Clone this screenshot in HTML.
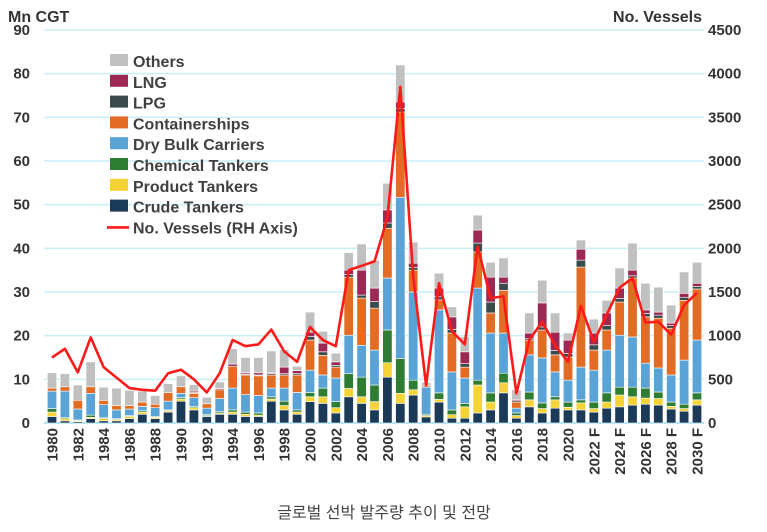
<!DOCTYPE html>
<html><head><meta charset="utf-8"><style>
body{margin:0;background:#fff;width:767px;height:527px;overflow:hidden;font-family:"Liberation Sans","Noto Sans CJK KR",sans-serif}
svg text{font-family:"Liberation Sans","Noto Sans CJK KR",sans-serif}
</style></head><body>
<svg id="chart" width="767" height="527" xmlns="http://www.w3.org/2000/svg"></svg>
<script>
const years=[];for(let y=1980;y<=2030;y++)years.push(y);
const crude=[1.5,0.5,0.3,1,0.5,0.5,1,2,1,2.5,5,3,1.5,2,2,1.5,1.5,5,3,2,4.9,4.5,2.3,6.0,4.5,3.0,10.5,4.5,6.4,1.4,4.8,1.1,1.1,2.3,3.0,6.9,1.1,3.7,2.3,3.4,3.0,3.0,2.5,3.4,3.7,4.1,4.3,4.1,3.2,2.7,4.1];
const product=[1,0.5,0.2,0.3,0.5,0.3,0.5,0.5,0.3,0.3,0.5,0.5,0.2,0.3,0.5,0.5,0.3,0.5,1,0.5,1.1,1.5,1.2,1.9,1.5,1.9,3.3,2.3,1.2,0.3,0.6,0.8,2.6,6.4,1.8,2.3,0.6,1.6,1.0,1.9,0.6,1.6,0.8,1.4,2.7,1.9,1.4,1.5,0.6,0.6,1.2];
const chemical=[0.8,0.3,0.2,0.5,0.2,0.2,0.2,0.3,0.2,0.2,0.3,0.3,0.2,0.3,0.5,0.5,0.5,0.5,1,0.5,1.0,2.0,1.4,3.4,4.5,3.8,7.5,8.0,2.2,0.3,1.5,1.1,0.8,1.1,2.1,2.2,0.6,1.8,1.3,0.7,1.2,0.7,1.5,2.1,1.8,2.2,2.3,1.5,1.0,1.0,1.6];
const dryBulk=[4,6,2.5,5,3,2,1.5,1,2,2,1,2,1.5,3,5,4,4,2,3,4,5.1,3.0,5.4,8.8,7.3,8.0,11.9,36.9,20.2,6.2,19.0,8.7,5.8,21.1,13.7,9.2,1.1,8.5,10.3,5.7,5.0,7.5,7.3,9.8,11.9,11.5,5.7,5.5,6.2,10.1,12.1];
const containers=[0.7,1,2,1.5,1,1,0.8,1,0.8,2,1.5,1,1,2,5,4.5,4.5,3,3,4,6.9,4.5,2.5,13.3,10.8,9.6,11.4,19.5,5.0,0.3,2.3,8.9,2.5,8.3,4.6,9.8,1.4,3.4,6.4,3.9,5.3,22.9,4.6,4.6,7.6,13.5,10.6,11.4,10.7,13.7,11.7];
const lpg=[0,0,0,0,0,0,0,0,0,0,0,0.2,0,0,0,0.2,0.2,0.3,0.3,0.3,0.8,0.8,0.4,0.6,0.7,1.5,1.2,0.8,0.6,0,0.7,0.8,0.8,2.0,2.5,1.6,0.3,0.3,0.7,1.0,0.8,1.6,1.2,1.0,0.8,0.5,0.8,0.7,0.6,0.7,0.6];
const lng=[0,0,0,0,0,0,0,0,0,0,0,0.3,0,0.3,0.5,0.3,0.5,0.2,1.5,0.7,1.0,2.0,0.8,1.0,5.7,3.1,3.0,1.5,1.0,0,2.0,2.9,2.7,3.0,5.7,1.4,0.3,1.3,5.5,4.2,3.1,2.5,2.7,2.9,2.4,1.3,0.8,0.7,0.6,0.9,0.7];
const others=[3.5,3,3.5,5.7,3,4,3.5,2.5,2,2,2.5,1.5,1.5,1.5,3.5,3.5,3.5,5,4,1,4.6,2.7,2.0,4.0,6.0,6.4,6.1,8.5,4.8,0.8,3.4,2.3,3.4,3.4,3.4,4.4,2.2,4.6,5.2,4.4,1.6,2.1,3.2,2.9,4.6,6.2,6.1,5.7,4.1,4.9,4.8];
const vessels=[750,850,580,980,640,520,400,380,370,570,610,500,350,570,950,880,900,1070,820,700,1100,950,880,1750,1800,1850,2350,3850,1680,430,1600,1050,900,2020,1430,1450,340,950,1160,890,700,1340,930,1240,1550,1660,1150,1160,1010,1350,1490];
const leftTicks=[0,10,20,30,40,50,60,70,80,90];
const rightTicks=[0,500,1000,1500,2000,2500,3000,3500,4000,4500];

const NS="http://www.w3.org/2000/svg",svg=document.getElementById('chart');
function mk(t,a,p){const e=document.createElementNS(NS,t);for(const k in a)e.setAttribute(k,a[k]);(p||svg).appendChild(e);return e;}
const X0=44,X1=704,Y0=423,Y1=30;
const yL=v=>Y0-(Y0-Y1)*v/90, yR=v=>Y0-(Y0-Y1)*v/4500, xC=i=>52+i*12.9;
// grid + ticks
leftTicks.forEach((t,i)=>{
 if(t>0){const g=mk('line',{x1:X0,x2:X1,y1:yL(t),y2:yL(t),stroke:'#c9eefb','stroke-width':1.5});
 }
 const l=mk('text',{x:30,y:yL(t)+5,'text-anchor':'end','font-size':15,'font-weight':'bold',fill:'#333'});l.textContent=t;
 
 const r=mk('text',{x:708,y:yR(rightTicks[i])+5,'font-size':15,'font-weight':'bold',fill:'#333'});r.textContent=rightTicks[i];
 
});
const ax=mk('line',{x1:X0,x2:X1,y1:Y0,y2:Y0,stroke:'#8fdcf5','stroke-width':1.5});

const series=[[crude,'#1b3a57','crude'],[product,'#f5d235','product'],[chemical,'#2f7d32','chemical'],[dryBulk,'#5aa3d6','dry-bulk'],[containers,'#e26c23','containers'],[lpg,'#3b4a4b','lpg'],[lng,'#9c2953','lng'],[others,'#c0c0c0','others']];
years.forEach((yr,i)=>{
 let acc=0;
 series.forEach(([arr,c,n])=>{const v=arr[i];if(v<=0)return;
  const r=mk('rect',{x:xC(i)-4.7,y:yL(acc+v),width:9.4,height:yL(acc)-yL(acc+v),fill:c,stroke:'#fff','stroke-width':0.6});
  acc+=v;});
 if(i%2===0){const lab=yr+(yr>=2022?' F':'');
  const t=mk('text',{transform:`translate(${xC(i)+5.5},428) rotate(-90)`,'text-anchor':'end','font-size':15,'font-weight':'bold',fill:'#333'});t.textContent=lab;
  }
});
const ln=mk('polyline',{points:vessels.map((v,i)=>xC(i)+','+yR(v)).join(' '),fill:'none',stroke:'#ff1a1a','stroke-width':2.6,'stroke-linejoin':'round'});

// headers
let h=mk('text',{x:8,y:22,'font-size':16,'font-weight':'bold',fill:'#333'});h.textContent='Mn CGT';

h=mk('text',{x:702,y:22,'text-anchor':'end','font-size':16,'font-weight':'bold',fill:'#333'});h.textContent='No. Vessels';

// legend
const leg=[['Others','#c0c0c0'],['LNG','#9c2953'],['LPG','#3b4a4b'],['Containerships','#e26c23'],['Dry Bulk Carriers','#5aa3d6'],['Chemical Tankers','#2f7d32'],['Product Tankers','#f5d235'],['Crude Tankers','#1b3a57']];
leg.forEach(([n,c],i)=>{const y=61+i*20.8;
 const s=mk('rect',{x:110,y:y-7,width:18,height:12,fill:c});
 const t=mk('text',{x:133,y:y+6,'font-size':16,'font-weight':'bold',fill:'#404040'});t.textContent=n;
 });
const ly=61+8*20.8;
const ll=mk('line',{x1:107,x2:129,y1:ly,y2:ly,stroke:'#ff1a1a','stroke-width':2.6});
const lt=mk('text',{x:133,y:ly+6,'font-size':16,'font-weight':'bold',fill:'#404040'});lt.textContent='No. Vessels (RH Axis)';

const ti=mk('text',{x:384,y:518,'text-anchor':'middle','font-size':16,fill:'#444'});ti.textContent='글로벌 선박 발주량 추이 및 전망';

</script>
</body></html>
